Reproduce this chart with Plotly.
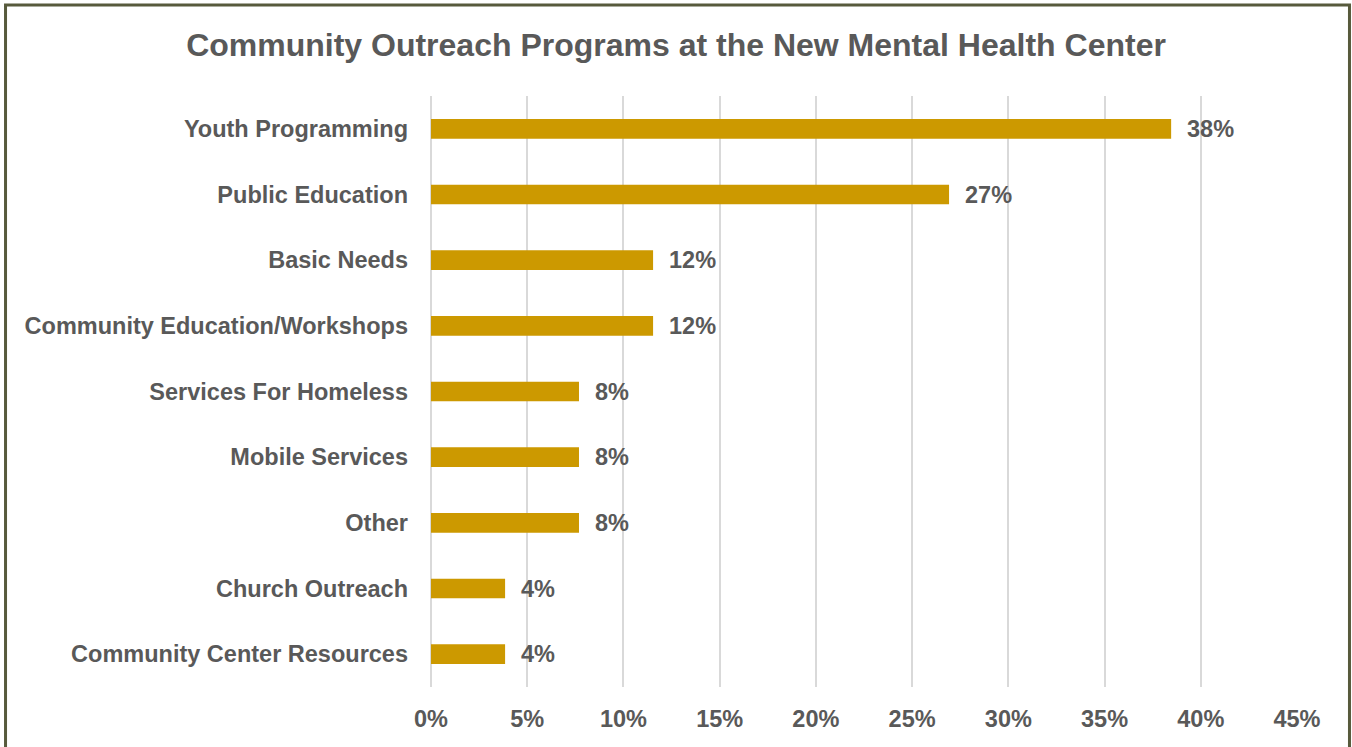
import plotly.graph_objects as go

# categories listed top to bottom as in the source chart
programs = [
    "Youth Programming",
    "Public Education",
    "Basic Needs",
    "Community Education/Workshops",
    "Services For Homeless",
    "Mobile Services",
    "Other",
    "Church Outreach",
    "Community Center Resources",
]
# share of responses, in percent
shares = [38.46, 26.92, 11.54, 11.54, 7.69, 7.69, 7.69, 3.85, 3.85]
tick_values = [0, 5, 10, 15, 20, 25, 30, 35, 40, 45]

TEXT = "#595959"
GRID = "#d9d9d9"
FONT = "Liberation Sans, Arial, sans-serif"
LABEL_SIZE = 23.5

fig = go.Figure(
    go.Bar(
        x=shares,
        y=programs,
        orientation="h",
        marker=dict(color="#cc9900", line=dict(width=0)),
        hoverinfo="x+y",
    )
)

# value labels to the right of each bar
for prog, val in zip(programs, shares):
    fig.add_annotation(
        x=val, y=prog, xref="x", yref="y",
        text=f"<b>{val:.0f}%</b>", showarrow=False,
        xanchor="left", yanchor="middle", xshift=14,
        font=dict(size=LABEL_SIZE, color=TEXT, family=FONT),
    )

# outer frame around the chart (left, top and right edges visible)
frame = dict(type="rect", xref="paper", yref="paper",
             x0=-0.4913, x1=1.0606, y0=-0.13, y1=1.154,
             line=dict(color="#575a3c", width=3), layer="above")

fig.update_layout(
    width=1352,
    height=747,
    margin=dict(l=431, r=55, t=96, b=60),
    paper_bgcolor="white",
    plot_bgcolor="white",
    bargap=0.7,
    showlegend=False,
    font=dict(family=FONT, color=TEXT),
    title=dict(
        text="<b>Community Outreach Programs at the New Mental Health Center</b>",
        x=0.5, xref="container", y=0.94, yref="container",
        xanchor="center", yanchor="middle",
        font=dict(size=32, color=TEXT, family=FONT),
    ),
    shapes=[frame],
)
fig.update_xaxes(
    range=[0, 45],
    tickvals=tick_values,
    ticktext=[f"<b>{v}%</b>" for v in tick_values],
    tickfont=dict(size=LABEL_SIZE, color=TEXT, family=FONT),
    showgrid=True,
    gridcolor=GRID,
    gridwidth=2,
    zeroline=True,
    zerolinecolor=GRID,
    zerolinewidth=2,
    showline=False,
    ticks="",
    ticklabelstandoff=15,
)
fig.update_yaxes(
    categoryorder="array",
    categoryarray=programs[::-1],
    tickvals=programs[::-1],
    ticktext=[f"<b>{p}</b>" for p in programs[::-1]],
    tickfont=dict(size=LABEL_SIZE, color=TEXT, family=FONT),
    showgrid=False,
    ticks="",
    ticklabelstandoff=22,
)

# drop the default page margin so the figure sits at the window's corner
fig.write_html("out.html", config={"displayModeBar": False},
               post_script="document.body.style.margin='0';")
